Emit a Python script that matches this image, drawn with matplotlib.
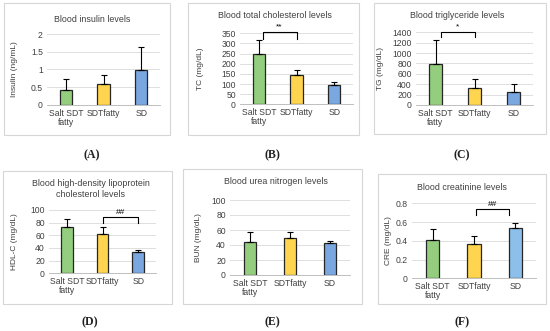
import matplotlib
matplotlib.use("Agg")
import matplotlib.pyplot as plt
from matplotlib.patches import Rectangle

plt.rcParams['font.family'] = ['Liberation Sans', 'DejaVu Sans']

categories = ["Salt SDT\nfatty", "SDTfatty", "SD"]

insulin = [0.42, 0.59, 0.97]
insulin_err = [0.30, 0.25, 0.66]
tc = [250, 145, 97]
tc_err = [68, 23, 13]
tg = [790, 330, 255]
tg_err = [460, 175, 140]
hdl = [73, 62, 33]
hdl_err = [13, 11, 4]
bun = [44, 50, 43]
bun_err = [13, 8, 3]
cre = [0.41, 0.37, 0.54]
cre_err = [0.12, 0.08, 0.05]

colors = ['#93cd7d', '#ffd54f', '#7aa7e0']
colors_f = ['#93cd7d', '#ffd54f', '#8cc0ea']
edge = '#262626'

W, H = 550, 331
fig = plt.figure(figsize=(W / 100, H / 100), dpi=100)


def px_rect(x0, x1, ytop, ybot):
    return [x0 / W, 1 - ybot / H, (x1 - x0) / W, (ybot - ytop) / H]


def box(x0, x1, y0, y1):
    fig.patches.append(Rectangle((x0 / W, 1 - y1 / H), (x1 - x0) / W, (y1 - y0) / H,
                                 transform=fig.transFigure, fill=False,
                                 edgecolor='#d6d6d6', linewidth=0.8))


panels = [
    dict(title="Blood insulin levels", ylabel="Insulin (ng/mL)", v=insulin, e=insulin_err,
         ticks=[0, 0.5, 1, 1.5, 2], tl=["0", "0.5", "1", "1.5", "2"],
         ax=(47, 160, 34, 104.7), box=(4, 170, 3, 135), tpos=(92, 19),
         lab="(A)", lpos=(92, 155), cols=colors, br=None, ylx=15),
    dict(title="Blood total cholesterol levels", ylabel="TC (mg/dL)", v=tc, e=tc_err,
         ticks=[0, 50, 100, 150, 200, 250, 300, 350], tl=None,
         ax=(240, 353, 33.3, 104.3), box=(188, 359, 3, 135), tpos=(275, 15),
         lab="(B)", lpos=(272, 155), cols=colors,
         br=(0.1, 1.0, 355, 322, "**"), ylx=200),
    dict(title="Blood triglyceride levels", ylabel="TG (mg/dL)", v=tg, e=tg_err,
         ticks=[0, 200, 400, 600, 800, 1000, 1200, 1400], tl=None,
         ax=(416, 533, 32.3, 105), box=(374, 546, 3, 134), tpos=(457, 15),
         lab="(C)", lpos=(462, 155), cols=colors,
         br=(0.15, 1.0, 1400, 1300, "*"), ylx=381),
    dict(title="Blood high-density lipoprotein\ncholesterol levels", ylabel="HDL-C (mg/dL)", v=hdl, e=hdl_err,
         ticks=[0, 20, 40, 60, 80, 100], tl=None,
         ax=(49, 156, 210, 273.3), box=(3, 172, 171, 304), tpos=(91, 189),
         lab="(D)", lpos=(90, 322), cols=colors,
         br=(1.0, 2.0, 89, 79, "##"), ylx=15),
    dict(title="Blood urea nitrogen levels", ylabel="BUN (mg/dL)", v=bun, e=bun_err,
         ticks=[0, 20, 40, 60, 80, 100], tl=None,
         ax=(230, 350, 200, 275), box=(183, 362, 169, 304), tpos=(276, 181),
         lab="(E)", lpos=(272, 322), cols=colors, br=None, ylx=199),
    dict(title="Blood creatinine levels", ylabel="CRE (mg/dL)", v=cre, e=cre_err,
         ticks=[0, 0.2, 0.4, 0.6, 0.8], tl=["0", "0.2", "0.4", "0.6", "0.8"],
         ax=(412, 536, 203.3, 278.3), box=(378, 546, 174, 304), tpos=(462, 187),
         lab="(F)", lpos=(462, 322), cols=colors_f,
         br=(1.05, 1.85, 0.736, 0.675, "##"), ylx=388),
]

for p in panels:
    box(*p['box'])
    x0, x1, yt, yb = p['ax']
    ax = fig.add_axes(px_rect(x0, x1, yt, yb))
    xs = range(len(categories))
    ax.bar(xs, p['v'], width=0.32, color=p['cols'], edgecolor=edge, linewidth=0.9, zorder=3)
    ax.errorbar(xs, p['v'], yerr=[[0] * 3, p['e']], fmt='none', ecolor='black',
                elinewidth=0.8, capsize=2, capthick=0.8, zorder=4)
    ax.set_xlim(-0.5, 2.5)
    ax.set_ylim(p['ticks'][0], p['ticks'][-1])
    ax.set_yticks(p['ticks'])
    if p['tl'] is not None:
        ax.set_yticklabels(p['tl'])
    ax.set_xticks(list(xs))
    ax.set_xticklabels(categories, linespacing=1.0)
    ax.tick_params(axis='both', length=0, labelsize=6.2, colors='#404040', pad=3)
    ax.tick_params(axis='x', pad=3)
    ax.grid(axis='y', color='#d9d9d9', linewidth=0.6, zorder=0)
    for s in ['top', 'right', 'left']:
        ax.spines[s].set_visible(False)
    ax.spines['bottom'].set_color('#bfbfbf')
    ax.spines['bottom'].set_linewidth(0.7)
    ax.set_facecolor('none')
    fig.text(p['ylx'] / W, 1 - ((yt + yb) / 2) / H, p['ylabel'], rotation=90,
             ha='center', va='center', fontsize=6, color='#404040')
    fig.text(p['tpos'][0] / W, 1 - p['tpos'][1] / H, p['title'], ha='center', va='center',
             fontsize=6.4, color='#404040', linespacing=1.25)
    fig.text(p['lpos'][0] / W, 1 - p['lpos'][1] / H, p['lab'], ha='center', va='center',
             fontsize=8.5, family='Liberation Serif', fontweight='bold', color='#202020')
    if p['br'] is not None:
        bx0, bx1, ytop, yleg, star = p['br']
        ax.plot([bx0, bx0, bx1, bx1], [yleg, ytop, ytop, yleg], color='black',
                linewidth=0.8, clip_on=False, zorder=5)
        span = p['ticks'][-1] - p['ticks'][0]
        ax.text((bx0 + bx1) / 2, ytop + span * 0.02, star, ha='center', va='bottom',
                fontsize=6, color='black', clip_on=False)

fig.savefig("out.png", dpi=100, facecolor='white')
